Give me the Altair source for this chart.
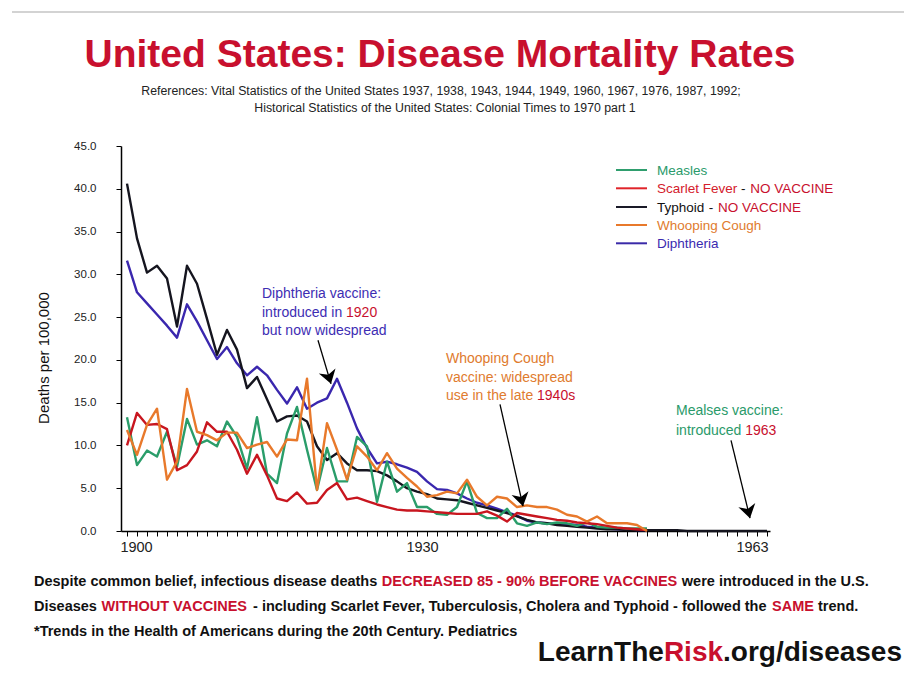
import math
import altair as alt
import pandas as pd

# ---------------- data (deaths per 100,000, one value per year from 1900) -------------
START_YEAR = 1900
measles = [13.3, 7.7, 9.4, 8.7, 11.6, 7.5, 13.1, 10.1, 10.6, 9.9, 12.8, 11.0, 7.3, 13.3,
           6.7, 5.6, 11.4, 14.5, 9.5, 4.8, 9.7, 5.8, 5.8, 11.0, 9.9, 3.4, 8.1, 4.6, 5.6,
           2.8, 2.8, 2.0, 1.9, 2.8, 5.8, 2.1, 1.5, 1.5, 2.6, 0.9, 0.6, 1.0, 0.8, 1.0, 0.9,
           0.6, 1.0, 0.5, 0.4, 0.4, 0.3, 0.3, 0.3]
scarlet = [10.0, 13.8, 12.4, 12.5, 11.9, 7.1, 7.7, 9.3, 12.7, 11.6, 11.6, 9.5, 6.7, 8.9,
           6.5, 3.8, 3.5, 4.5, 3.2, 3.3, 4.8, 5.6, 3.7, 3.9, 3.5, 3.1, 2.8, 2.5, 2.4, 2.4,
           2.3, 2.2, 2.1, 2.0, 2.0, 2.0, 2.3, 1.8, 1.1, 2.1, 1.9, 1.7, 1.5, 1.3, 1.2, 1.0,
           0.9, 0.8, 0.6, 0.4, 0.3, 0.2, 0.1]
typhoid = [40.6, 34.2, 30.2, 31.0, 29.5, 23.9, 31.0, 28.9, 24.8, 20.6, 23.5, 21.2, 16.7,
           18.0, 15.4, 12.8, 13.4, 13.5, 12.8, 9.9, 8.3, 9.1, 7.9, 7.1, 7.1, 7.0, 6.5, 5.8,
           5.0, 4.6, 4.3, 3.8, 3.7, 3.6, 3.3, 3.0, 2.7, 2.4, 2.1, 1.7, 1.3, 1.0, 0.9, 0.7,
           0.6, 0.5, 0.4, 0.3, 0.2, 0.2, 0.1, 0.1, 0.1, 0.1, 0.1, 0.1, 0.0, 0.0, 0.0, 0.0,
           0.0, 0.0, 0.0, 0.0, 0.0]
whooping = [11.8, 8.9, 12.4, 14.3, 6.0, 8.1, 16.6, 11.6, 11.2, 10.6, 11.5, 11.5, 9.7, 10.1,
            10.4, 8.7, 10.7, 10.6, 17.8, 4.8, 12.6, 9.5, 6.0, 9.9, 8.7, 7.1, 9.1, 7.3, 6.2,
            5.2, 4.0, 4.2, 4.6, 4.4, 6.0, 4.0, 3.0, 4.0, 3.8, 2.8, 3.0, 2.8, 2.8, 2.5, 1.9,
            1.7, 1.1, 1.7, 0.9, 0.9, 0.9, 0.7, 0.0]
diphtheria = [31.6, 27.9, 26.6, 25.3, 24.0, 22.6, 26.5, 24.5, 22.3, 20.1, 21.5, 19.6, 18.2,
              19.2, 18.2, 16.5, 14.9, 16.8, 14.3, 15.0, 15.5, 17.8, 15.0, 12.0, 9.7, 7.9,
              8.1, 7.8, 7.4, 6.9, 5.8, 4.9, 4.8, 4.4, 3.8, 3.3, 3.0, 2.6, 2.2, 1.8, 1.2, 1.0,
              0.9, 0.8, 0.8, 0.7, 0.5, 0.4, 0.3, 0.2, 0.2, 0.1, 0.1]

series_names = ["Measles", "Scarlet Fever", "Typhoid", "Whooping Cough", "Diphtheria"]
series_values = [measles, scarlet, typhoid, whooping, diphtheria]
series_colors = ["#2a9d6a", "#c8161f", "#15151f", "#e8792b", "#3a27ae"]
draw_order = ["Diphtheria", "Typhoid", "Measles", "Scarlet Fever", "Whooping Cough"]

x_ticks = list(range(1900, 1965))
x_labels = [1900, 1930, 1963]
y_ticks = [0, 5, 10, 15, 20, 25, 30, 35, 40, 45]

# annotation arrows: tail (year, rate) -> tip (year, rate)
arrow_tail_year = [1919.1, 1937.3, 1960.4]
arrow_tail_rate = [22.3, 14.8, 10.6]
arrow_tip_year = [1920.4, 1939.6, 1962.3]
arrow_tip_rate = [17.2, 2.9, 1.5]

rows = []
for name, vals in zip(series_names, series_values):
    for i, v in enumerate(vals):
        rows.append({"series": name, "year": START_YEAR + i, "rate": v})
df = pd.DataFrame(rows)

# ---------------- layout ----------------
W, H = 649, 385
PAD = {"left": 113, "top": 138, "right": 134, "bottom": 138}
OX, OY = 8 + PAD["left"], 8 + PAD["top"]  # page position of plot origin
XDOM = [1899.4, 1964.3]
YDOM = [0, 45]

SANS = "Liberation Sans"
RED = "#c8102e"
BLACK = "#111111"

# Arial / Liberation Sans metrics (1/1000 em)
_REG = {" ": 278, "!": 278, "%": 889, "'": 191, "(": 333, ")": 333, "*": 389, ",": 278,
        "-": 333, ".": 278, "/": 278, ":": 278, ";": 278, "?": 556}
_BLD = {" ": 278, "!": 333, "%": 889, "'": 238, "(": 333, ")": 333, "*": 389, ",": 278,
        "-": 333, ".": 278, "/": 278, ":": 333, ";": 333, "?": 611}
for d in "0123456789":
    _REG[d] = 556
    _BLD[d] = 556
_up_reg = [667, 667, 722, 722, 667, 611, 778, 722, 278, 500, 667, 556, 833, 722, 778, 667,
           778, 722, 667, 611, 722, 667, 944, 667, 667, 611]
_up_bld = [722, 722, 722, 722, 667, 611, 778, 722, 278, 556, 722, 611, 833, 722, 778, 667,
           778, 722, 667, 611, 722, 667, 944, 667, 667, 611]
_lo_reg = [556, 556, 500, 556, 556, 278, 556, 556, 222, 222, 500, 222, 833, 556, 556, 556,
           556, 333, 500, 278, 556, 500, 722, 500, 500, 500]
_lo_bld = [556, 611, 556, 611, 556, 333, 611, 611, 278, 278, 556, 278, 889, 611, 611, 611,
           611, 389, 556, 333, 611, 556, 778, 556, 556, 500]
for i in range(26):
    _REG[chr(65 + i)] = _up_reg[i]
    _BLD[chr(65 + i)] = _up_bld[i]
    _REG[chr(97 + i)] = _lo_reg[i]
    _BLD[chr(97 + i)] = _lo_bld[i]


def tw(s, size, bold=False):
    table = _BLD if bold else _REG
    return sum(table.get(c, 556) for c in s) / 1000.0 * size


def fit(s, target, bold=False):
    return round(target / tw(s, 1.0, bold), 1)


ONE = [{"k": 1}]


def label(s, x, y, size, color, bold=False, align="left", angle=0,
          baseline="alphabetic"):
    kw = dict(text=s, align=align, baseline=baseline, font=SANS, fontSize=size,
              fontWeight="bold" if bold else "normal", color=color)
    if angle:
        kw["angle"] = angle
    return alt.Chart(alt.Data(values=ONE)).mark_text(**kw).encode(
        x=alt.value(x - OX), y=alt.value(y - OY))


def line_of(parts, x, y, size, bold=False, align="left"):
    """Mixed-colour line: each segment is centred on its computed span."""
    total = sum(tw(t, size, bold) for t, _ in parts)
    if align == "center":
        cur = x - total / 2
    elif align == "right":
        cur = x - total
    else:
        cur = x
    out = []
    n = len(parts)
    for k, (t, col) in enumerate(parts):
        lead = len(t) - len(t.lstrip(" "))
        trail = len(t) - len(t.rstrip(" "))
        s = t.strip(" ")
        a = cur + tw(" " * lead, size, bold)
        b = cur + tw(t, size, bold) - tw(" " * trail, size, bold)
        if s:
            if n == 1:
                pos, al = (a, "left")
            elif k == 0:
                pos, al = (a, "left")
            elif k == n - 1:
                pos, al = (b, "right")
            else:
                pos, al = ((a + b) / 2, "center")
            out.append(label(s, pos, y, size, col, bold, align=al))
        cur += tw(t, size, bold)
    return out


# ---------------- data lines ----------------
xs = alt.Scale(domain=XDOM, nice=False, zero=False)
ys = alt.Scale(domain=YDOM, nice=False)
x_axis = alt.Axis(values=x_ticks, format="d", title=None, grid=False,
                  labelExpr="(datum.value == 1900 || datum.value == 1930 || datum.value == 1963) ? datum.label : ''",
                  labelOverlap=False, labelFlush=False, labelBound=False,
                  tickSize=5, tickColor="black",
                  tickWidth=1, domainColor="black", domainWidth=1.5, labelFont=SANS,
                  labelFontSize=14.5, labelColor="#222222", labelPadding=4,
                  labelOffset={"condition": {"test": "datum.value == 1900", "value": 9},
                               "value": -5})
y_axis = alt.Axis(values=y_ticks, format=".1f", title=None, grid=False, tickSize=5,
                  tickColor="black", tickWidth=1, domainColor="black", domainWidth=1.5,
                  labelFont=SANS, labelFontSize=11.5, labelColor="#222222",
                  labelPadding=20, labelOverlap=False)

color_of = dict(zip(series_names, series_colors))
layers = []
for name in draw_order:
    layers.append(
        alt.Chart(df).transform_filter(alt.datum.series == name)
        .mark_line(color=color_of[name], strokeWidth=2.4, strokeJoin="round")
        .encode(x=alt.X("year:Q", scale=xs, axis=x_axis),
                y=alt.Y("rate:Q", scale=ys, axis=y_axis))
    )

# ---------------- arrows ----------------
def to_px(yr, rt):
    return ((yr - XDOM[0]) / (XDOM[1] - XDOM[0]) * W,
            H - (rt - YDOM[0]) / (YDOM[1] - YDOM[0]) * H)


arr_rows = []
for a, b, c, d in zip(arrow_tail_year, arrow_tail_rate, arrow_tip_year, arrow_tip_rate):
    p0, p1 = to_px(a, b), to_px(c, d)
    ang = (-math.degrees(math.atan2(p1[0] - p0[0], p1[1] - p0[1]))) % 360
    arr_rows.append({"year": a, "rate": b, "x2": c, "y2": d, "ang": ang})
arr_df = pd.DataFrame(arr_rows)

layers.append(
    alt.Chart(arr_df).mark_rule(color="black", strokeWidth=1.3).encode(
        x=alt.X("year:Q", scale=xs, axis=x_axis), y=alt.Y("rate:Q", scale=ys, axis=y_axis),
        x2="x2:Q", y2="y2:Q")
)
layers.append(
    alt.Chart(arr_df).transform_calculate(tipx="datum.x2", tipy="datum.y2")
    .mark_point(
        shape="M0,0 L-0.55,-0.85 L0,-0.6 L0.55,-0.85 Z", filled=True, color="black",
        opacity=1, size=1000, strokeWidth=0).encode(
        x=alt.X("x2:Q", scale=xs, axis=x_axis), y=alt.Y("y2:Q", scale=ys, axis=y_axis),
        angle=alt.Angle("ang:Q", scale=None))
)

# ---------------- texts ----------------
texts = []
TITLE = "United States: Disease Mortality Rates"
texts.append(label(TITLE, 440, 67, 39, RED, True, align="center"))
SUB1 = "References: Vital Statistics of the United States 1937, 1938, 1943, 1944, 1949, 1960, 1967, 1976, 1987, 1992;"
SUB2 = "Historical Statistics of the United States: Colonial Times to 1970 part 1"
sub_size = fit(SUB1, 600)
texts.append(label(SUB1, 441, 94.5, sub_size, "#222222", align="center"))
texts.append(label(SUB2, 445, 111.5, sub_size, "#222222", align="center"))

# y title
texts.append(label("Deaths per 100,000", 43.5, 358, 15, "#111111", angle=270,
                   align="center", baseline="middle"))

# legend
LEG_Y = [170, 188.3, 207, 225, 243.3]
leg_line_colors = ["#2f9e6e", "#e0242a", "#1a1a28", "#e8792b", "#3a2aa8"]
leg_parts = [
    [("Measles", "#2a9a6a")],
    [("Scarlet Fever", "#d4202c"), (" - ", BLACK), ("NO VACCINE", RED)],
    [("Typhoid", BLACK), (" - ", BLACK), ("NO VACCINE", RED)],
    [("Whooping Cough", "#e07b2e")],
    [("Diphtheria", "#3a2ab0")],
]
for yy, lc, parts in zip(LEG_Y, leg_line_colors, leg_parts):
    texts.append(
        alt.Chart(alt.Data(values=ONE)).mark_rule(color=lc, strokeWidth=2).encode(
            x=alt.value(616 - OX), x2=alt.value(647 - OX), y=alt.value(yy - OY)))
    texts += line_of(parts, 657, yy + 5, 13.5)

# annotations
BLUE_T = "#3d2db3"
ORANGE_T = "#e07b2e"
GREEN_T = "#2a9a6a"
texts += line_of([("Diphtheria vaccine:", BLUE_T)], 262, 298, 14)
texts += line_of([("introduced in ", BLUE_T), ("1920", RED)], 262, 317, 14)
texts += line_of([("but now widespread", BLUE_T)], 262, 335, 14)
texts += line_of([("Whooping Cough", ORANGE_T)], 446, 363, 14)
texts += line_of([("vaccine: widespread", ORANGE_T)], 446, 382, 14)
texts += line_of([("use in the late ", ORANGE_T), ("1940s", RED)], 446, 400, 14)
texts += line_of([("Mealses vaccine:", GREEN_T)], 676, 415, 14)
texts += line_of([("introduced ", GREEN_T), ("1963", RED)], 676, 435, 14)

# bottom notes
L1 = [("Despite common belief, infectious disease deaths ", BLACK),
      ("DECREASED 85 - 90% BEFORE VACCINES", RED),
      (" were introduced in the U.S.", BLACK)]
L2 = [("Diseases ", BLACK), ("WITHOUT VACCINES", RED),
      (" - including Scarlet Fever, Tuberculosis, Cholera and Typhoid - followed the ", BLACK),
      ("SAME", RED), (" trend.", BLACK)]
L3 = [("*Trends in the Health of Americans during the 20th Century. Pediatrics", BLACK)]
note_size = fit("".join(t for t, _ in L1), 836, True)
texts += line_of(L1, 34, 586, note_size, bold=True)
texts += line_of(L2, 34, 611, note_size, bold=True)
texts += line_of(L3, 34, 636, note_size, bold=True)

BRAND = [("LearnThe", BLACK), ("Risk", RED), (".org/diseases", BLACK)]
texts += line_of(BRAND, 902, 661, 28, bold=True, align="right")

# frame line at top
texts.append(
    alt.Chart(alt.Data(values=ONE)).mark_rule(color="#c4c4c4", strokeWidth=1.5).encode(
        x=alt.value(12 - OX), x2=alt.value(904 - OX), y=alt.value(12 - OY)))

chart = alt.layer(*layers, *texts).properties(
    width=W, height=H, padding=PAD,
    autosize=alt.AutoSizeParams(type="none"),
).configure_view(stroke=None)

chart.save("out.html", embed_options={"renderer": "svg", "actions": False})
